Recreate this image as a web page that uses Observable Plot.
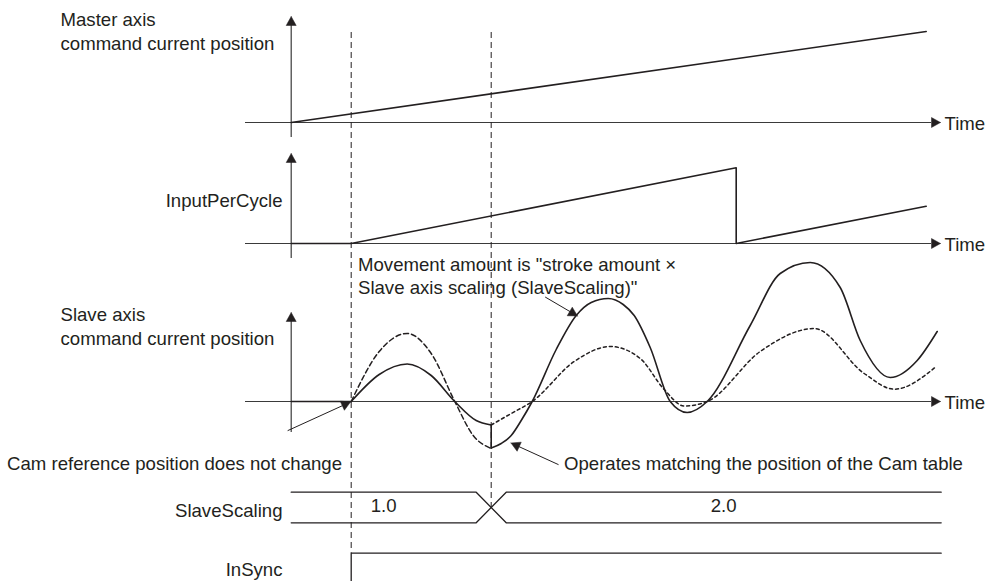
<!DOCTYPE html>
<html><head><meta charset="utf-8">
<script src="https://cdn.jsdelivr.net/npm/d3@7"></script>
<script src="https://cdn.jsdelivr.net/npm/@observablehq/plot@0.6"></script>
<style>body{margin:0;background:#fff}</style>
</head><body><div id="chart"></div>
<script>
// ---- data (time unit: t = 0 at the vertical axes) ----
const eventT = [6, 20];                 // sync start, SlaveScaling change
const masterT = [0, 63.5];
const masterV = [0, 91];
const inputT = [0, 6, 44.5, 44.5, 63.5];
const inputV = [0, 0, 75.7, 0, 37.3];
const slaveIdleT = [0, 6];
const slaveIdleV = [0, 0];
// solid: actual slave position (scaling 1.0 then 2.0)
const solidAT = [6, 8.8, 11.6, 14, 16.36, 18.5, 20];
const solidAV = [0, 27, 37.5, 26, 0, -19, -23.5];
const solidBT = [20, 21, 22, 23, 24.1, 26.5, 28.5, 30, 31.7, 33.2, 34.3, 35.9, 37.9, 39.6, 41.6, 45.9, 48.9, 51.9, 54.9, 56.9, 59.9, 62.6, 64.6];
const solidBV = [-46.6, -42, -34, -19, 0, 52, 86, 99, 103, 97, 86, 54, 0, -11, 0, 76, 128, 139, 114, 61, 24, 41, 70];
// long dash: profile with scaling 2.0 before the change
const dashAT = [6, 8.8, 11.6, 14, 16.36, 18.2, 20];
const dashAV = [0, 50, 68, 48, 0, -34, -47];
// short dash: profile with scaling 1.0 after the change
const dashBT = [20, 22, 24.1, 28.3, 31.9, 34.9, 37.3, 39.3, 41.6, 46.9, 52.3, 57.3, 60.3, 64.5];
const dashBV = [-23.5, -12, 0, 40, 55, 43, 12, -4.5, 0, 50, 73, 28, 12.3, 35];
const scalingT = [0, 20, 65];
const scalingLabels = ["1.0", "2.0"];
const inSyncT = [6, 65];

// ---- layout ----
const W = 986, H = 581, X0 = 290.7, PX = 10;
const toT = px => (px - X0) / PX;
const rows = [
  {base: 122, top: 16, bottom: 137},
  {base: 243, top: 153, bottom: 258},
  {base: 401, top: 312, bottom: 432}
];
const axisStartT = toT(245), arrowTipT = toT(940);
const busTop = 491.7, busBot = 522.3, busHalf = 1.5, syncHigh = 552.7;
const INK = "#231f20", AXIS = "#3a3a3a";
const HEAD_L = 9, HEAD_W = 5;
const FS = 18.6;

const pts = (T, V, base, id) => T.map((t, i) => ({t, y: base - V[i], id}));

// arrowhead polygon from tip (px) and direction (px)
function head(tipPx, tipY, dx, dy, id) {
  const n = Math.hypot(dx, dy), ux = dx / n, uy = dy / n;
  const bx = tipPx - HEAD_L * ux, by = tipY - HEAD_L * uy;
  const px = -uy, py = ux;
  return [
    {t: toT(tipPx), y: tipY, id},
    {t: toT(bx + HEAD_W * px), y: by + HEAD_W * py, id},
    {t: toT(bx - HEAD_W * px), y: by - HEAD_W * py, id},
    {t: toT(tipPx), y: tipY, id}
  ];
}

const heads = [];
rows.forEach((r, i) => {
  heads.push(...head(X0, r.top, 0, -1, "v" + i));
  heads.push(...head(940, r.base, 1, 0, "h" + i));
});
const notes = [
  {from: [545, 296.7], tip: [577, 315.5]},
  {from: [287.5, 430], tip: [350, 401.5]},
  {from: [557.7, 464], tip: [510.5, 442.5]}
];
const noteLines = [];
notes.forEach((n, i) => {
  const dx = n.tip[0] - n.from[0], dy = n.tip[1] - n.from[1];
  const L = Math.hypot(dx, dy);
  heads.push(...head(n.tip[0], n.tip[1], dx, dy, "n" + i));
  noteLines.push({t: toT(n.from[0]), y: n.from[1], id: "n" + i});
  noteLines.push({t: toT(n.tip[0] - HEAD_L * dx / L), y: n.tip[1] - HEAD_L * dy / L, id: "n" + i});
});

const solid = [
  ...pts(masterT, masterV, rows[0].base, "m"),
  ...pts(inputT, inputV, rows[1].base, "in"),
  ...pts(slaveIdleT, slaveIdleV, rows[2].base, "idle")
];
const jump = [
  {t: eventT[1], y: rows[2].base - solidAV[solidAV.length - 1], id: "j"},
  {t: eventT[1], y: rows[2].base - solidBV[0], id: "j"}
];
const curveSolid = [...pts(solidAT, solidAV, rows[2].base, "a"), ...pts(solidBT, solidBV, rows[2].base, "b")];

const bus = [
  {t: scalingT[0], y: busTop, id: "A"}, {t: scalingT[1] - busHalf, y: busTop, id: "A"},
  {t: scalingT[1] + busHalf, y: busBot, id: "A"}, {t: scalingT[2], y: busBot, id: "A"},
  {t: scalingT[0], y: busBot, id: "B"}, {t: scalingT[1] - busHalf, y: busBot, id: "B"},
  {t: scalingT[1] + busHalf, y: busTop, id: "B"}, {t: scalingT[2], y: busTop, id: "B"},
  {t: inSyncT[0], y: H, id: "S"}, {t: inSyncT[0], y: syncHigh, id: "S"}, {t: inSyncT[1], y: syncHigh, id: "S"}
];
const busLabels = scalingLabels.map((s, i) => {
  const a = i === 0 ? scalingT[0] : scalingT[1] + busHalf;
  const b = i === 0 ? scalingT[1] - busHalf : scalingT[2];
  return {text: s, t: (a + b) / 2, y: (busTop + busBot) / 2 - 1};
});

const textsStart = [
  {text: "Master axis\ncommand current position", t: toT(60), y: 30},
  {text: "Slave axis\ncommand current position", t: toT(60), y: 325},
  {text: 'Movement amount is "stroke amount ×\nSlave axis scaling (SlaveScaling)"', t: toT(357.5), y: 274.5},
  {text: "Operates matching the position of the Cam table", t: toT(563.5), y: 461.7},
  ...rows.map(r => ({text: "Time", t: toT(944), y: r.base}))
];
const textsEnd = [
  {text: "InputPerCycle", t: toT(282), y: 199.3},
  {text: "Cam reference position does not change", t: toT(341.5), y: 461.7},
  {text: "SlaveScaling", t: toT(282), y: 508.5},
  {text: "InSync", t: toT(282), y: 568}
];

const chart = Plot.plot({
  width: W, height: H,
  marginLeft: 0, marginRight: 0, marginTop: 0, marginBottom: 0,
  x: {domain: [toT(0), toT(W)], range: [0, W], axis: null},
  y: {domain: [0, H], range: [0, H], axis: null},
  style: {fontFamily: "'Liberation Sans', Arial, sans-serif", background: "#fff", color: INK},
  marks: [
    // axes
    Plot.ruleY(rows, {y: "base", x1: axisStartT, x2: arrowTipT - HEAD_L / PX, stroke: AXIS, strokeWidth: 1.2}),
    Plot.ruleX(rows, {x: 0, y1: d => d.top + HEAD_L, y2: "bottom", stroke: AXIS, strokeWidth: 1.2}),
    // event dashed lines
    Plot.ruleX([{t: eventT[0], y2: syncHigh}, {t: eventT[1], y2: (busTop + busBot) / 2}],
      {x: "t", y1: 32, y2: "y2", stroke: INK, strokeWidth: 1, strokeDasharray: "6,4"}),
    // signals
    Plot.line(solid, {x: "t", y: "y", z: "id", stroke: INK, strokeWidth: 1.6}),
    Plot.line(jump, {x: "t", y: "y", z: "id", stroke: INK, strokeWidth: 1.6}),
    Plot.line(curveSolid, {x: "t", y: "y", z: "id", curve: "monotone-x", stroke: INK, strokeWidth: 1.6}),
    Plot.line(pts(dashAT, dashAV, rows[2].base, "da"), {x: "t", y: "y", curve: "monotone-x", stroke: INK, strokeWidth: 1.5, strokeDasharray: "5,3"}),
    Plot.line(pts(dashBT, dashBV, rows[2].base, "db"), {x: "t", y: "y", curve: "monotone-x", stroke: INK, strokeWidth: 1.5, strokeDasharray: "3,3"}),
    // timing buses
    Plot.line(bus, {x: "t", y: "y", z: "id", stroke: INK, strokeWidth: 1.3}),
    // annotation leaders and arrowheads
    Plot.line(noteLines, {x: "t", y: "y", z: "id", stroke: INK, strokeWidth: 1}),
    Plot.line(heads, {x: "t", y: "y", z: "id", fill: INK, stroke: INK, strokeWidth: 0.5}),
    // text
    Plot.text(busLabels, {x: "t", y: "y", text: "text", fontSize: FS, fill: INK}),
    Plot.text(textsStart, {x: "t", y: "y", text: "text", textAnchor: "start", fontSize: FS, lineHeight: 1.26, fill: INK}),
    Plot.text(textsEnd, {x: "t", y: "y", text: "text", textAnchor: "end", fontSize: FS, lineHeight: 1.26, fill: INK})
  ]
});
document.getElementById("chart").appendChild(chart);
</script>
</body></html>
